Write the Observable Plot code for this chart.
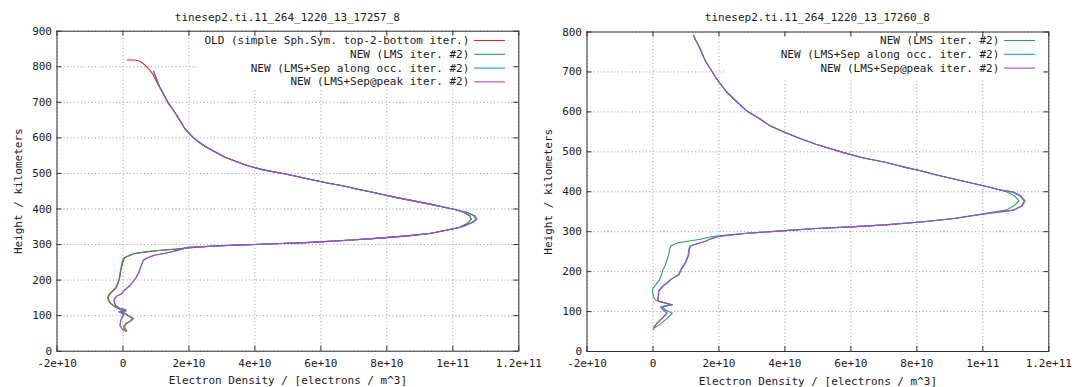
<!DOCTYPE html>
<html>
<head>
<meta charset="utf-8">
<script src="https://cdn.jsdelivr.net/npm/d3@7"></script>
<script src="https://cdn.jsdelivr.net/npm/@observablehq/plot@0.6"></script>
<style>
  html, body { margin: 0; padding: 0; background: #fff; }
  body { width: 1081px; height: 387px; overflow: hidden; position: relative; }
  .panel { position: absolute; top: 0; height: 387px; overflow: hidden; }
  .panel svg { overflow: hidden; }
</style>
</head>
<body>
<div id="left" class="panel" style="left:0px;width:545px"></div>
<div id="right" class="panel" style="left:537px;width:537px"></div>
<script>
// ---------- shared axis definitions ----------
const E10 = 1e10;
const xTicks = [-2e10, 0, 2e10, 4e10, 6e10, 8e10, 1e11, 1.2e11];
const xTickLabels = ["-2e+10", "0", "2e+10", "4e+10", "6e+10", "8e+10", "1e+11", "1.2e+11"];
const yTicksLeft = [0, 100, 200, 300, 400, 500, 600, 700, 800, 900];
const yTicksRight = [0, 100, 200, 300, 400, 500, 600, 700, 800];
const xLabel = "Electron Density / [electrons / m^3]";
const yLabel = "Height / kilometers";
const titleLeft = "tinesep2.ti.11_264_1220_13_17257_8";
const titleRight = "tinesep2.ti.11_264_1220_13_17260_8";
const seriesNames = [
  "OLD (simple Sph.Sym. top-2-bottom iter.)",
  "NEW (LMS iter. #2)",
  "NEW (LMS+Sep along occ. iter. #2)",
  "NEW (LMS+Sep@peak iter. #2)"
];
const seriesColors = ["#e02828", "#2ca05a", "#1f9cc4", "#ab45cc"];

// ---------- left chart: [height km, density in 1e10 /m^3] ----------
const leftTopOld = [[819,0.13],[819,0.35],[816,0.5],[810,0.6],[800,0.72],[792,0.8],[780,0.9],[765,0.98],[744,1.1],[720,1.25]];
const leftTopNew = [[787,0.93],[770,1.0],[745,1.1],[720,1.25]];
const leftUpper = [[700,1.36],[675,1.55],[650,1.72],[625,1.88],[600,2.14],[585,2.35],[572,2.56],[560,2.8],[546,3.08],[533,3.45],[521,3.81],[510,4.25],[500,4.85],[490,5.35],[483,5.69],[473,6.2],[464,6.73],[455,7.15],[447,7.57],[440,7.9],[432,8.3],[422,8.85],[413,9.34],[405,9.75],[398,10.1]];
const leftPeakGreen = [[390,10.35],[380,10.52],[371,10.56],[360,10.45],[348,10.2]];
const leftPeakBlue = [[390,10.42],[380,10.64],[371,10.7],[362,10.57],[350,10.28]];
const leftPeakPurple = [[390,10.45],[380,10.68],[371,10.73],[362,10.6],[350,10.3]];
const leftMid = [[340,9.8],[331,9.3],[325,8.7],[318,7.78],[312,6.8],[306,5.7],[302,4.6],[299,3.6],[296,2.8]];
const leftLowOld = [[292,2.16],[287,1.62],[284,1.16],[280,0.78],[275,0.36],[268,0.17],[263,0.05],[253,0.0],[240,-0.03],[230,-0.06],[215,-0.08],[202,-0.11],[190,-0.15],[179,-0.2],[170,-0.3],[160,-0.4],[151,-0.45],[142,-0.42],[133,-0.35],[123,-0.2],[119,-0.1],[114,0.1],[111,-0.03],[106,0.07],[100,0.16],[93,0.32],[86,0.26],[77,0.1],[70,0.05],[63,0.07],[57,0.12]];
const leftLowGreen = [[292,2.14],[287,1.6],[284,1.14],[280,0.75],[275,0.33],[268,0.15],[263,0.03],[253,-0.02],[240,-0.05],[230,-0.07],[215,-0.1],[202,-0.12],[190,-0.17],[179,-0.22],[170,-0.32],[160,-0.42],[151,-0.47],[142,-0.44],[133,-0.37],[123,-0.22],[119,-0.12],[114,0.08],[111,-0.05],[106,0.05],[100,0.13],[93,0.28],[86,0.23],[77,0.08],[70,0.02],[63,0.03],[55,0.08]];
const leftLowPurple = [[292,1.95],[285,1.7],[277,1.35],[270,0.95],[263,0.74],[256,0.62],[249,0.59],[235,0.53],[221,0.48],[207,0.4],[193,0.28],[184,0.2],[170,0.03],[161,-0.05],[156,-0.17],[147,-0.26],[142,-0.27],[135,-0.25],[128,-0.22],[119,-0.07],[117,0.08],[111,-0.12],[106,-0.02],[102,0.03],[95,-0.03],[86,-0.07],[72,-0.09],[63,-0.02],[58,0.03]];

// ---------- right chart ----------
const rightUpper = [[792,1.23],[782,1.28],[760,1.42],[727,1.59],[700,1.8],[685,1.91],[651,2.22],[626,2.53],[602,2.85],[581,3.27],[565,3.55],[552,3.9],[535,4.4],[519,4.94],[498,5.78],[485,6.35],[474,7.04],[463,7.55],[453,8.08],[442,8.6],[432,9.13],[422,9.65],[412,10.18],[405,10.5]];
const rightPeakGreen = [[399,10.75],[390,10.95],[377,11.1],[365,10.95],[354,10.7],[345,10.0]];
const rightPeakBlue = [[399,10.9],[390,11.12],[377,11.25],[365,11.17],[354,10.92],[345,10.08]];
const rightPeakPurple = [[399,10.95],[390,11.15],[377,11.28],[365,11.2],[354,10.95],[345,10.1]];
const rightMid = [[333,9.13],[325,8.2],[317,7.04],[312,6.0],[308,4.94],[302,3.9],[296,2.85]];
const rightLowGreen = [[292,2.3],[288,1.8],[281,1.44],[275,0.96],[272,0.74],[264,0.54],[254,0.5],[243,0.48],[230,0.43],[213,0.36],[205,0.3],[190,0.25],[180,0.2],[167,0.08],[155,-0.02],[138,0.01],[129,0.08],[125,0.18],[117,0.54],[113,0.28],[104,0.38],[96,0.59],[83,0.43],[66,0.18],[58,0.03],[54,0.01]];
const rightLowBlue = [[293,2.48],[288,1.98],[282,1.74],[276,1.58],[270,1.33],[264,1.12],[255,1.08],[243,1.07],[238,1.05],[222,0.97],[205,0.84],[192,0.77],[180,0.52],[176,0.48],[163,0.28],[151,0.17],[140,0.16],[129,0.14],[125,0.2],[117,0.58],[111,0.22],[104,0.32],[96,0.42],[83,0.27],[71,0.12],[60,0.02]];
const rightLowPurple = [[293,2.5],[288,2.0],[282,1.75],[276,1.6],[270,1.35],[264,1.14],[255,1.1],[243,1.09],[238,1.07],[222,0.99],[205,0.86],[192,0.79],[180,0.54],[176,0.5],[163,0.3],[151,0.18],[140,0.17],[129,0.15],[125,0.21],[117,0.59],[111,0.23],[104,0.33],[96,0.43],[83,0.28],[71,0.13],[60,0.03]];

const leftSeries = [
  {name: seriesNames[0], color: seriesColors[0], pts: [...leftTopOld, ...leftUpper, ...leftPeakGreen, ...leftMid, ...leftLowOld]},
  {name: seriesNames[1], color: seriesColors[1], pts: [...leftTopNew, ...leftUpper, ...leftPeakGreen, ...leftMid, ...leftLowGreen]},
  {name: seriesNames[2], color: seriesColors[2], pts: [...leftTopNew, ...leftUpper, ...leftPeakBlue, ...leftMid, ...leftLowPurple]},
  {name: seriesNames[3], color: seriesColors[3], pts: [...leftTopNew, ...leftUpper, ...leftPeakPurple, ...leftMid, ...leftLowPurple]}
];
const rightSeries = [
  {name: seriesNames[1], color: seriesColors[1], pts: [...rightUpper, ...rightPeakGreen, ...rightMid, ...rightLowGreen]},
  {name: seriesNames[2], color: seriesColors[2], pts: [...rightUpper, ...rightPeakBlue, ...rightMid, ...rightLowBlue]},
  {name: seriesNames[3], color: seriesColors[3], pts: [...rightUpper, ...rightPeakPurple, ...rightMid, ...rightLowPurple]}
];

function makeChart(cfg) {
  const {width, height, ml, mr, mt, mb, yMax, yTicks, series, title, keyLeft, keyBottom} = cfg;
  const frameW = width - ml - mr;
  const frameH = height - mt - mb;
  const plot = Plot.plot({
    width, height,
    marginLeft: ml, marginRight: mr, marginTop: mt, marginBottom: mb,
    x: {domain: [-2e10, 1.2e11]},
    y: {domain: [0, yMax]},
    style: {fontFamily: "'DejaVu Sans Mono', monospace", fontSize: "11px", color: "#1a1a1a", background: "transparent", overflow: "hidden"},
    marks: [
      Plot.gridX(xTicks, {stroke: "#9a9a9a", strokeOpacity: 1, strokeDasharray: "1,2.5"}),
      Plot.gridY(yTicks, {stroke: "#9a9a9a", strokeOpacity: 1, strokeDasharray: "1,2.5"}),
      ...series.map(s => Plot.line(s.pts, {x: d => d[1] * E10, y: d => d[0], stroke: s.color, strokeWidth: 1.1})),
      Plot.tickX(xTicks, {x: d => d, insetTop: frameH - 5, stroke: "#333"}),
      Plot.tickX(xTicks, {x: d => d, insetBottom: frameH - 5, stroke: "#333"}),
      Plot.tickY(yTicks, {y: d => d, insetRight: frameW - 5, stroke: "#333"}),
      Plot.tickY(yTicks, {y: d => d, insetLeft: frameW - 5, stroke: "#333"}),
      Plot.axisX(xTicks, {tickSize: 0, tickPadding: 8, tickFormat: d => xTickLabels[xTicks.indexOf(d)],
        label: xLabel, labelAnchor: "center", labelOffset: 33, labelArrow: "none"}),
      Plot.axisY(yTicks, {tickSize: 0, tickPadding: 5, tickFormat: d => String(d),
        label: yLabel, labelAnchor: "center", labelOffset: 43, labelArrow: "none"}),
      Plot.frame({stroke: "#333"})
    ]
  });
  const svg = d3.select(plot);
  const g = svg.append("g").attr("font-family", "'DejaVu Sans Mono', monospace").attr("font-size", 11).attr("fill", "#1a1a1a");
  // title
  g.append("text").attr("x", ml + frameW / 2).attr("y", 17).attr("dy", "0.32em").attr("text-anchor", "middle").text(title);
  // opaque key box
  const right = width - mr;
  g.append("rect").attr("x", keyLeft).attr("y", mt + 5.5).attr("width", right - 6 - keyLeft).attr("height", keyBottom - (mt + 5.5)).attr("fill", "#fff");
  series.forEach((s, i) => {
    const y = 40.5 + i * 13.8;
    g.append("text").attr("x", right - 49).attr("y", y).attr("dy", "0.32em").attr("text-anchor", "end").text(s.name);
    g.append("line").attr("x1", right - 44.3).attr("x2", right - 13.3).attr("y1", y).attr("y2", y).attr("stroke", s.color).attr("stroke-width", 1.1);
  });
  return plot;
}

document.getElementById("left").append(makeChart({
  width: 545, height: 387, ml: 56.5, mr: 26.7, mt: 30.7, mb: 36.3,
  yMax: 900, yTicks: yTicksLeft, series: leftSeries, title: titleLeft, keyLeft: 198, keyBottom: 89
}));
document.getElementById("right").append(makeChart({
  width: 537, height: 387, ml: 49.5, mr: 25.7, mt: 31.5, mb: 36,
  yMax: 800, yTicks: yTicksRight, series: rightSeries, title: titleRight, keyLeft: 189, keyBottom: 80
}));
</script>
</body>
</html>
